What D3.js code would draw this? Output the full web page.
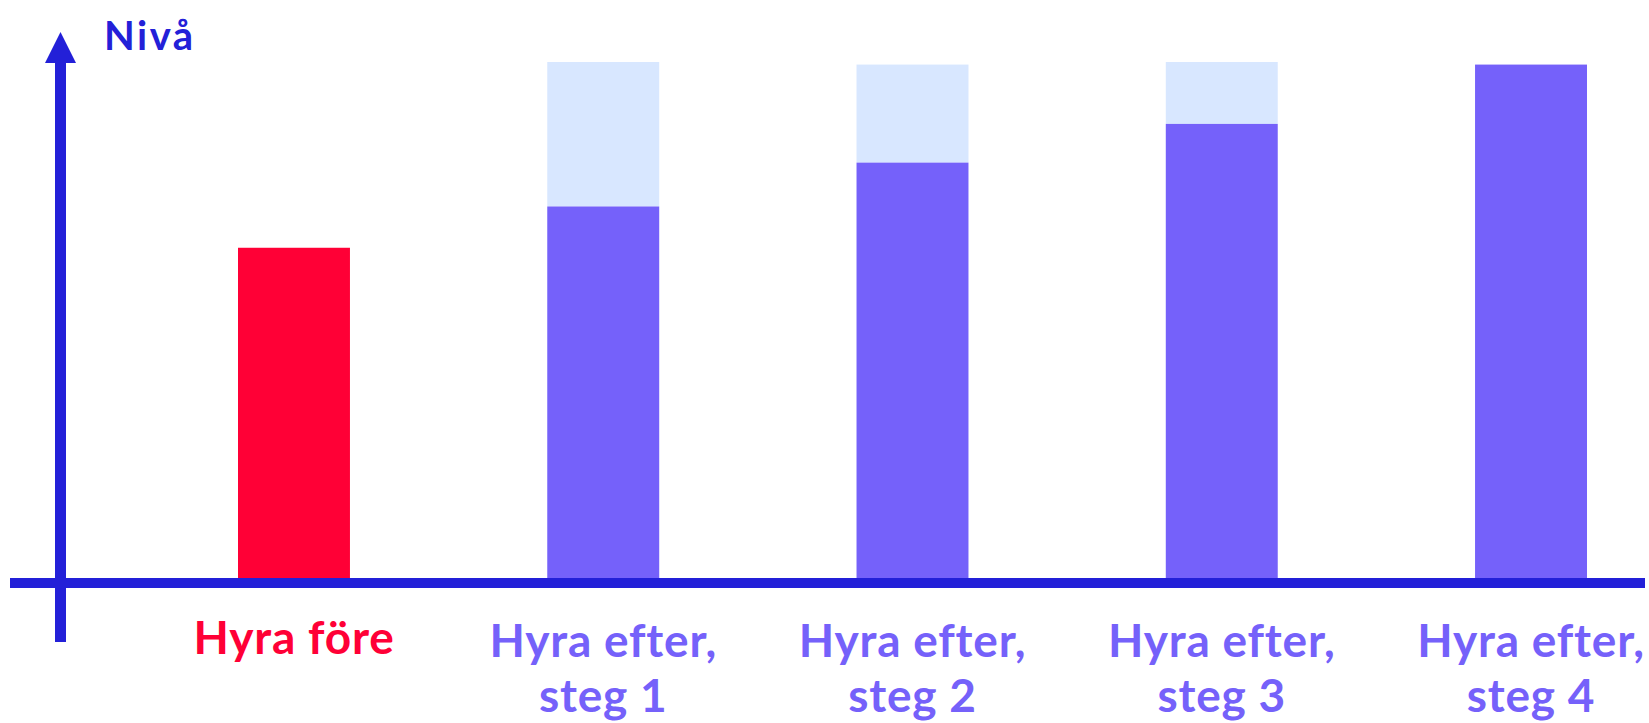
<!DOCTYPE html>
<html>
<head>
<meta charset="utf-8">
<script src="https://cdn.jsdelivr.net/npm/d3@7"></script>
<style>
  body { margin: 0; background: #fff; }
  svg text { font-family: Lato, "Noto Sans", sans-serif; font-weight: 700; }
</style>
</head>
<body>
<div id="chart"></div>
<script>
// values (0-100, top of the light bars = 100)
var categories = ["Hyra före", "Hyra efter, steg 1", "Hyra efter, steg 2", "Hyra efter, steg 3", "Hyra efter, steg 4"];
var labelLines = [["Hyra före"], ["Hyra efter,", "steg 1"], ["Hyra efter,", "steg 2"], ["Hyra efter,", "steg 3"], ["Hyra efter,", "steg 4"]];
var baseValues = [64, 72, 80.5, 88, 99.5];
var gapValues = [0, 28, 19, 12, 0];
var yTitle = "Nivå";

var width = 1649, height = 723;
var axisColor = "#2320d8", barColor = "#7561fa", gapColor = "#d8e7ff", beforeColor = "#ff0036";

var svg = d3.select("#chart")
    .append("svg")
    .attr("width", width)
    .attr("height", height);

var x = d3.scaleBand()
    .domain(categories)
    .range([238, 1587])
    .paddingInner(0.638)
    .paddingOuter(0);

var y = d3.scaleLinear()
    .domain([0, 100])
    .range([578, 62]);

var data = categories.map(function(c, i) {
    return { cat: c, base: baseValues[i], gap: gapValues[i], lines: labelLines[i], i: i };
});

// light "gap" part on top
svg.selectAll("rect.gap")
    .data(data.filter(function(d) { return d.gap > 0; }))
    .enter()
    .append("rect")
    .attr("class", "gap")
    .attr("x", function(d) { return x(d.cat); })
    .attr("y", function(d) { return y(d.base + d.gap); })
    .attr("width", x.bandwidth())
    .attr("height", function(d) { return y(d.base) - y(d.base + d.gap); })
    .attr("fill", gapColor);

svg.selectAll("rect.base")
    .data(data)
    .enter()
    .append("rect")
    .attr("class", "base")
    .attr("x", function(d) { return x(d.cat); })
    .attr("y", function(d) { return y(d.base); })
    .attr("width", x.bandwidth())
    .attr("height", function(d) { return y(0) - y(d.base); })
    .attr("fill", function(d) { return d.i === 0 ? beforeColor : barColor; });

// axes
svg.append("line")
    .attr("x1", 10).attr("x2", 1645)
    .attr("y1", y(0) + 5).attr("y2", y(0) + 5)
    .attr("stroke", axisColor)
    .attr("stroke-width", 10);

svg.append("line")
    .attr("x1", 60.5).attr("x2", 60.5)
    .attr("y1", 642).attr("y2", 60)
    .attr("stroke", axisColor)
    .attr("stroke-width", 11);

svg.append("path")
    .attr("d", "M60.5,32 L45,63 L76,63 Z")
    .attr("fill", axisColor);

svg.append("text")
    .attr("x", 104)
    .attr("y", 50)
    .attr("font-size", 40)
    .attr("letter-spacing", 2.5)
    .attr("fill", axisColor)
    .text(yTitle);

// category labels
var labels = svg.selectAll("text.cat")
    .data(data)
    .enter()
    .append("text")
    .attr("class", "cat")
    .attr("text-anchor", "middle")
    .attr("font-size", 46)
    .attr("letter-spacing", 0.8)
    .attr("fill", function(d) { return d.i === 0 ? beforeColor : barColor; })
    .attr("transform", function(d) {
        return "translate(" + (x(d.cat) + x.bandwidth() / 2) + "," + (d.i === 0 ? 654 : 657) + ")";
    });

labels.selectAll("tspan")
    .data(function(d) { return d.lines; })
    .enter()
    .append("tspan")
    .attr("x", 0)
    .attr("dy", function(d, j) { return j === 0 ? 0 : 55; })
    .text(function(d) { return d; });
</script>
</body>
</html>
